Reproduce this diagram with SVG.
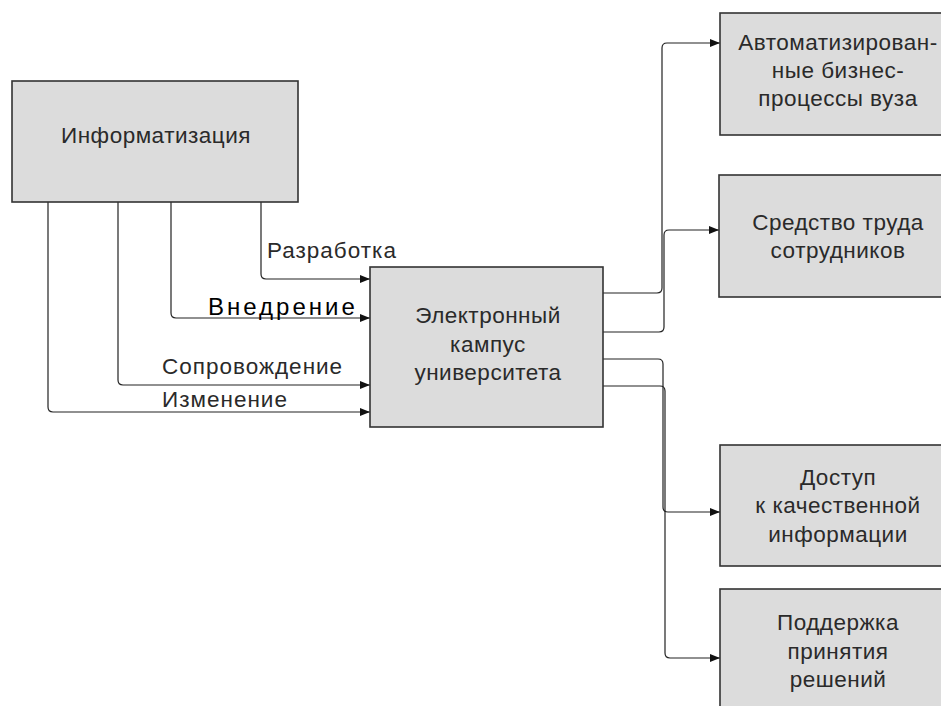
<svg xmlns="http://www.w3.org/2000/svg" width="941" height="706" viewBox="0 0 941 706">
<style>
.box{fill:#dcdcdc;stroke:#333;stroke-width:1.6}
.t{font-family:"Liberation Sans",Arial,sans-serif;font-size:22.5px;letter-spacing:0.5px;fill:#2a2a2a;text-anchor:middle}
.lbl{font-family:"Liberation Sans",Arial,sans-serif;font-size:22.5px;letter-spacing:1px;fill:#2a2a2a}
.c{fill:none;stroke:#222;stroke-width:1.2;marker-end:url(#ah)}
</style>
<defs>
<marker id="ah" viewBox="0 0 10 8" refX="10" refY="4" markerWidth="10" markerHeight="8" markerUnits="userSpaceOnUse" orient="auto">
<path d="M0,0 L10,4 L0,8 Z" fill="#111"/>
</marker>
</defs>
<rect width="941" height="706" fill="#fff"/>
<g id="connectors">
<path class="c" d="M261,202 V274 Q261,279 266,279 H370"/>
<path class="c" d="M171,202 V313 Q171,318 176,318 H370"/>
<path class="c" d="M118,202 V380 Q118,385 123,385 H370"/>
<path class="c" d="M48,202 V407 Q48,412 53,412 H370"/>
<path class="c" d="M603,293 H657 Q662,293 662,288 V48 Q662,43 667,43 H720"/>
<path class="c" d="M603,332 H659 Q664,332 664,327 V235 Q664,230 669,230 H719"/>
<path class="c" d="M603,359 H658 Q663,359 663,364 V507 Q663,512 668,512 H720"/>
<path class="c" d="M603,386 H660 Q665,386 665,391 V653 Q665,658 670,658 H720"/>
</g>
<g id="labels">
<text class="lbl" x="267" y="258">Разработка</text>
<text class="lbl" x="208" y="315" style="font-size:24px;fill:#000;letter-spacing:3px">Внедрение</text>
<text class="lbl" x="162" y="374">Сопровождение</text>
<text class="lbl" x="162" y="407">Изменение</text>
</g>
<g id="informatizatsiya">
<rect class="box" x="12" y="81" width="286" height="121"/>
<text class="t" x="156" y="143">Информатизация</text>
</g>
<g id="campus">
<rect class="box" x="370" y="267" width="233" height="160"/>
<text class="t" x="488" y="323">Электронный</text>
<text class="t" x="488" y="352">кампус</text>
<text class="t" x="488" y="380">университета</text>
</g>
<g id="business">
<rect class="box" x="720" y="13" width="230" height="122"/>
<text class="t" x="838" y="50">Автоматизирован-</text>
<text class="t" x="838" y="78">ные бизнес-</text>
<text class="t" x="838" y="106">процессы вуза</text>
</g>
<g id="tool">
<rect class="box" x="719" y="175" width="231" height="122"/>
<text class="t" x="838" y="230">Средство труда</text>
<text class="t" x="838" y="258">сотрудников</text>
</g>
<g id="access">
<rect class="box" x="720" y="445" width="230" height="121"/>
<text class="t" x="838" y="485">Доступ</text>
<text class="t" x="838" y="513">к качественной</text>
<text class="t" x="838" y="542">информации</text>
</g>
<g id="decision">
<rect class="box" x="720" y="589" width="230" height="130"/>
<text class="t" x="838" y="630">Поддержка</text>
<text class="t" x="838" y="659">принятия</text>
<text class="t" x="838" y="687">решений</text>
</g>
</svg>
